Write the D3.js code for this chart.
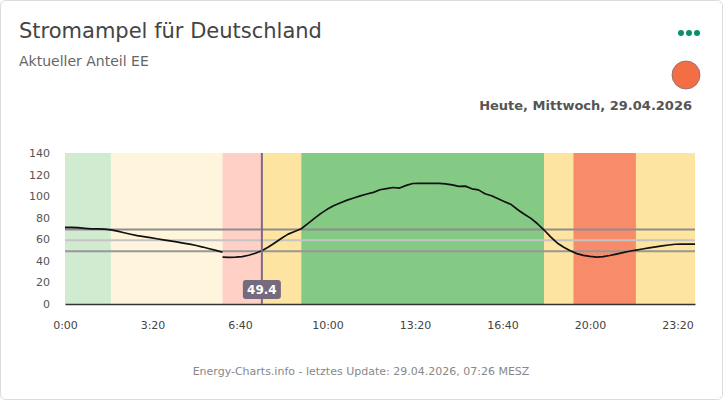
<!DOCTYPE html>
<html>
<head>
<meta charset="utf-8">
<script src="https://cdn.jsdelivr.net/npm/d3@7"></script>
<style>
  body { margin: 0; background: #fff; font-family: "DejaVu Sans", sans-serif; }
</style>
</head>
<body>
<svg id="chart" width="723" height="400"></svg>
<script>
// Stromampel: Anteil erneuerbarer Energien, heute, 15-Minuten-Werte

// Ampel-Phasen (Minuten seit 0:00)
const bandStart = [0, 105, 360, 450, 540, 1095, 1162, 1305];
const bandEnd   = [105, 360, 450, 540, 1095, 1162, 1305, 1440];
const bandLevel = ["gruen", "gelb", "rot", "gelb", "gruen", "gelb", "rot", "gelb"];

// gemessene Werte 0:00 - 6:00 (alle 15 min)
const istWerte = [71.0, 71.1, 70.8, 70.2, 69.7, 69.6, 69.4, 68.8, 67.5, 66.1,
  64.7, 63.4, 62.4, 61.5, 60.5, 59.5, 58.5, 57.6, 56.5, 55.5,
  54.2, 52.8, 51.2, 49.7, 48.0];

// Prognose 6:00 - 24:00 (alle 15 min)
const prognoseWerte = [43.4, 43.3, 43.5, 44.0, 45.2, 47.0, 49.4, 52.8, 56.8, 60.9,
  64.8, 67.3, 69.8, 74.5, 79.4, 84.0, 88.0, 91.3, 93.9, 96.3,
  98.3, 100.3, 102.0, 103.5, 105.9, 106.9, 108.0, 107.5, 110.0, 111.7,
  111.8, 111.8, 111.8, 111.8, 111.3, 110.5, 109.0, 109.3, 106.8, 105.8,
  102.2, 100.4, 97.5, 94.8, 92.2, 87.4, 83.2, 79.4, 74.4, 68.6,
  62.2, 56.6, 52.6, 49.4, 46.7, 45.1, 44.2, 43.5, 43.9, 45.0,
  46.3, 47.6, 48.9, 50.0, 51.0, 52.0, 53.0, 53.9, 54.7, 55.4,
  55.6, 55.6, 55.6];
const prognoseStart = 360;
const schritt = 15;

// Schwellen
const schwellen = [69, 59.2, 49];

const jetztMinute = 450;
const jetztWert = 49.4;

const xTicks = [0, 200, 400, 600, 800, 1000, 1200, 1400];
const yTicks = [0, 20, 40, 60, 80, 100, 120, 140];

const svg = d3.select("#chart");
const margin = { top: 153, right: 28, bottom: 96, left: 65 };
const width = 723, height = 400;

// Karte
svg.append("rect")
  .attr("x", 0.5).attr("y", 0.5)
  .attr("width", width - 1).attr("height", height - 1)
  .attr("rx", 5)
  .attr("fill", "#fff")
  .attr("stroke", "#dcdcdc");

svg.append("text")
  .attr("x", 19).attr("y", 38)
  .attr("fill", "#444")
  .style("font-size", "21px")
  .text("Stromampel für Deutschland");

svg.append("text")
  .attr("x", 19).attr("y", 66)
  .attr("fill", "#666")
  .style("font-size", "14px")
  .text("Aktueller Anteil EE");

// Menü-Punkte
[0, 1, 2].forEach(i => {
  svg.append("circle")
    .attr("cx", 681 + i * 8).attr("cy", 33).attr("r", 3)
    .attr("fill", "#0a8f6c");
});

// Ampel
svg.append("circle")
  .attr("cx", 686).attr("cy", 75).attr("r", 14)
  .attr("fill", "#f36d45")
  .attr("stroke", "#7d6f74")
  .attr("stroke-width", 0.8);

svg.append("text")
  .attr("x", 692).attr("y", 110)
  .attr("text-anchor", "end")
  .attr("fill", "#555")
  .style("font-size", "13px")
  .style("font-weight", "bold")
  .text("Heute, Mittwoch, 29.04.2026");

const x = d3.scaleLinear()
  .domain([0, 1440])
  .range([margin.left, width - margin.right]);

const y = d3.scaleLinear()
  .domain([0, 140])
  .range([height - margin.bottom, margin.top]);

const color = d3.scaleOrdinal()
  .domain(["gruen", "gelb", "rot"])
  .range(["#84c984", "#fee4a1", "#f88b6a"]);
const colorPast = d3.scaleOrdinal()
  .domain(["gruen", "gelb", "rot"])
  .range(["#d1ebd1", "#fff5dc", "#ffd0c6"]);

const g = svg.append("g");

// Phasen
g.selectAll("rect.band")
  .data(bandStart.map((s, i) => ({ s, e: bandEnd[i], level: bandLevel[i] })))
  .join("rect")
  .attr("class", "band")
  .attr("x", d => x(d.s))
  .attr("width", d => x(d.e) - x(d.s))
  .attr("y", y(140))
  .attr("height", y(0) - y(140))
  .attr("fill", d => d.s < jetztMinute ? colorPast(d.level) : color(d.level));

// Schwellen-Linien
g.selectAll("line.schwelle")
  .data(schwellen)
  .join("line")
  .attr("class", "schwelle")
  .attr("x1", x(0)).attr("x2", x(1440))
  .attr("y1", d => y(d)).attr("y2", d => y(d))
  .attr("stroke", (d, i) => ["#8e8e8e", "#c4c4c4", "#979797"][i])
  .attr("stroke-width", 2);

const ist = istWerte.map((v, i) => ({ t: i * schritt, v }));
const prognose = prognoseWerte.map((v, i) => ({ t: prognoseStart + i * schritt, v }));

// Fläche über der oberen Schwelle (Ist-Werte)
g.append("path")
  .datum(ist)
  .attr("fill", "#8e8e8e")
  .attr("d", d3.area()
    .x(d => x(d.t))
    .y0(y(schwellen[0]))
    .y1(d => y(Math.max(d.v, schwellen[0]))));

const line = d3.line()
  .x(d => x(d.t))
  .y(d => y(d.v));

[ist, prognose].forEach(seg => {
  g.append("path")
    .datum(seg)
    .attr("fill", "none")
    .attr("stroke", "#111")
    .attr("stroke-width", 1.7)
    .attr("stroke-linejoin", "round")
    .attr("d", line);
});

// X-Achse
const xAxis = g.append("g")
  .attr("transform", `translate(0,${y(0)})`)
  .call(d3.axisBottom(x)
    .tickValues(xTicks)
    .tickSize(0)
    .tickPadding(17)
    .tickFormat(d => `${Math.floor(d / 60)}:${String(d % 60).padStart(2, "0")}`));
xAxis.select(".domain").attr("stroke", "#333").attr("stroke-width", 1.5);
xAxis.selectAll("text")
  .attr("fill", "#444")
  .style("font-size", "11px")
  .style("font-family", "DejaVu Sans");

// Y-Achse
const yAxis = g.append("g")
  .attr("transform", `translate(${margin.left - 15},0)`)
  .call(d3.axisLeft(y).tickValues(yTicks).tickSize(0).tickPadding(0));
yAxis.select(".domain").remove();
yAxis.selectAll("text")
  .attr("fill", "#555")
  .style("font-size", "11px")
  .style("font-family", "DejaVu Sans");

// Aktuelle Zeit
g.append("line")
  .attr("x1", x(jetztMinute)).attr("x2", x(jetztMinute))
  .attr("y1", y(140)).attr("y2", y(0))
  .attr("stroke", "#7a6b80")
  .attr("stroke-width", 2);

g.append("rect")
  .attr("x", x(jetztMinute) - 19).attr("y", 280)
  .attr("width", 38).attr("height", 19)
  .attr("rx", 3)
  .attr("fill", "#766a7e");

g.append("text")
  .attr("x", x(jetztMinute)).attr("y", 294)
  .attr("text-anchor", "middle")
  .attr("fill", "#fff")
  .style("font-size", "12px")
  .style("font-weight", "bold")
  .text(jetztWert.toFixed(1));

svg.append("text")
  .attr("x", 361).attr("y", 375)
  .attr("text-anchor", "middle")
  .attr("fill", "#888")
  .style("font-size", "11px")
  .text("Energy-Charts.info - letztes Update: 29.04.2026, 07:26 MESZ");
</script>
</body>
</html>
